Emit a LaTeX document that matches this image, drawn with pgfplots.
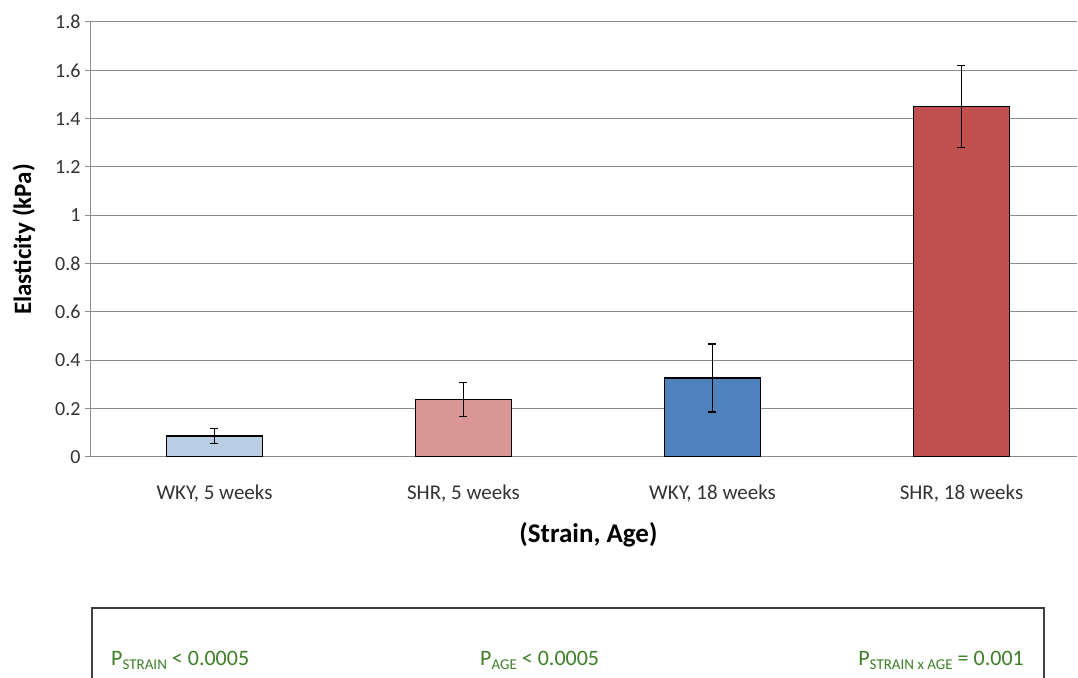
\documentclass[border=0pt]{standalone}
\usepackage{fontspec}
\setmainfont{Carlito}
\usepackage{pgfplots}
\pgfplotsset{compat=1.18}
\definecolor{cA}{HTML}{B9CDE5}
\definecolor{cB}{HTML}{D99694}
\definecolor{cC}{HTML}{4F81BD}
\definecolor{cD}{HTML}{C0504D}
\definecolor{pgreen}{RGB}{62,128,40}
\definecolor{gridgray}{RGB}{140,140,140}
\newcommand{\sub}[1]{\raisebox{-4pt}{\fontsize{15}{17}\selectfont #1}}
\pgfplotsset{mybar/.style={
    ybar, bar width=96pt, bar shift=0pt, draw=black, line width=1.3pt,
    error bars/y dir=both, error bars/y explicit,
    error bars/error bar style={black, line width=1.3pt},
    error bars/error mark options={rotate=90, mark size=4pt, black, line width=1.3pt}
}}
\begin{document}
\begin{tikzpicture}[x=1pt,y=1pt]
\useasboundingbox (0,0) rectangle (1078,677);
\clip (0,0) rectangle (1078,677);
\fill[white] (0,0) rectangle (1078,677);
\begin{axis}[
  at={(90pt,220pt)}, anchor=south west,
  scale only axis, width=987pt, height=435pt,
  xmin=-0.5, xmax=3.464, ymin=0, ymax=1.8,
  axis lines*=left,
  axis line style={draw=gridgray, line width=1pt, -},
  ymajorgrids,
  grid style={draw=gridgray, line width=1pt},
  ytick={0,0.2,0.4,0.6,0.8,1,1.2,1.4,1.6,1.8},
  yticklabels={0,0.2,0.4,0.6,0.8,1,1.2,1.4,1.6,1.8},
  xtick={0,1,2,3},
  xticklabels={{WKY, 5 weeks},{SHR, 5 weeks},{WKY, 18 weeks},{SHR, 18 weeks}},
  xtick style={draw=none},
  ytick style={draw=gridgray, line width=1pt},
  tick align=outside,
  major tick length=5pt,
  yticklabel style={font=\fontsize{20}{23}\selectfont, text=black!80, xshift=-1pt},
  xticklabel style={font=\fontsize{21}{24}\selectfont, text=black!80, anchor=base, yshift=-38pt},
  ylabel={\textbf{Elasticity (kPa)}},
  ylabel style={at={(axis description cs:-0.067,0.5)}, anchor=center, font=\fontsize{25}{29}\selectfont},
  xlabel={\textbf{(Strain, Age)}},
  xlabel style={at={(axis description cs:0.505,-0.178)}, anchor=center, font=\fontsize{27}{31}\selectfont},
]
\addplot[mybar, fill=cA] coordinates {(0,0.087) +- (0,0.031)};
\addplot[mybar, fill=cB] coordinates {(1,0.239) +- (0,0.070)};
\addplot[mybar, fill=cC] coordinates {(2,0.327) +- (0,0.141)};
\addplot[mybar, fill=cD] coordinates {(3,1.450) +- (0,0.170)};
\end{axis}
\draw[black!75, line width=1.5pt] (92,69) rectangle (1044,-30);
\node[anchor=base west, text=pgreen, font=\fontsize{22}{25}\selectfont, inner sep=0pt] at (111,12) {P\sub{STRAIN} < 0.0005};
\node[anchor=base west, text=pgreen, font=\fontsize{22}{25}\selectfont, inner sep=0pt] at (480,12) {P\sub{AGE} < 0.0005};
\node[anchor=base east, text=pgreen, font=\fontsize{22}{25}\selectfont, inner sep=0pt] at (1024,12) {P\sub{STRAIN x AGE} = 0.001};
\end{tikzpicture}
\end{document}
